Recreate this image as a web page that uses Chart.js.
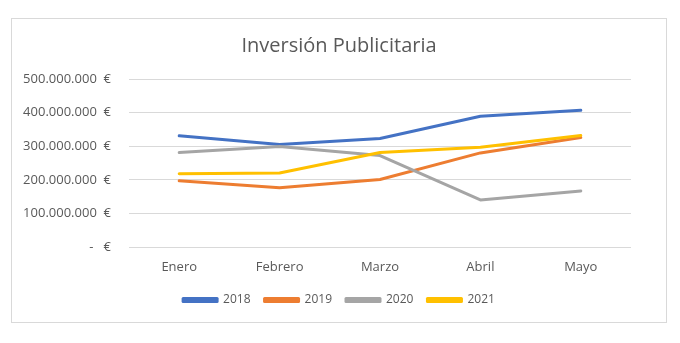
<!DOCTYPE html>
<html>
<head>
<meta charset="utf-8">
<script src="https://cdn.jsdelivr.net/npm/chart.js@4.4.1/dist/chart.umd.min.js"></script>
<style>
  body { margin: 0; background: #fff; }
  #wrap {
    position: absolute; left: 11px; top: 18px;
    width: 654px; height: 303px;
    border: 1px solid #d9d9d9;
  }
</style>
</head>
<body>
<div id="wrap"><canvas id="lineChart" width="654" height="303"></canvas></div>
<script>
// Data
const months = ['Enero', 'Febrero', 'Marzo', 'Abril', 'Mayo'];
const years = ['2018', '2019', '2020', '2021'];
const inv2018 = [331000000, 305000000, 323000000, 389000000, 407000000];
const inv2019 = [197000000, 176000000, 201000000, 280000000, 326000000];
const inv2020 = [281000000, 299000000, 272000000, 140000000, 167000000];
const inv2021 = [218000000, 220000000, 281000000, 297000000, 332000000];
const yTicks = [0, 100000000, 200000000, 300000000, 400000000, 500000000];

const colors = ['#4472C4', '#ED7D31', '#A5A5A5', '#FFC000'];
const series = [inv2018, inv2019, inv2020, inv2021];

// accounting style like Excel: "-" for zero
function euro(v) {
    if (v === 0) return '-   €';
    return v.toLocaleString('de-DE') + '  €';
}

Chart.defaults.font.family = "'Open Sans', sans-serif";
Chart.defaults.color = '#595959';

const ctx = document.getElementById('lineChart').getContext('2d');
const lineChart = new Chart(ctx, {
    type: 'line',
    data: {
        labels: months,
        datasets: series.map(function (vals, i) {
            return {
                label: years[i],
                data: vals,
                borderColor: colors[i],
                backgroundColor: colors[i],
                borderWidth: 3,
                tension: 0,
                pointRadius: 0,
                borderCapStyle: 'round',
                borderJoinStyle: 'round',
                order: series.length - i,
                yAxisID: 'y'
            };
        })
    },
    options: {
        responsive: false,
        animation: false,
        layout: { padding: { top: 0, left: 0, right: 0, bottom: 6 } },
        plugins: {
            title: {
                display: true,
                text: 'Inversión Publicitaria',
                font: { size: 20, weight: 'normal' },
                color: '#595959',
                padding: { top: 15, bottom: 21 }
            },
            legend: {
                position: 'bottom',
                reverse: true,
                labels: {
                    boxWidth: 34,
                    boxHeight: 3,
                    padding: 14,
                    font: { size: 12 },
                    color: '#595959'
                }
            },
            tooltip: { enabled: false }
        },
        scales: {
            x: {
                offset: true,
                grid: { display: false, drawTicks: false },
                border: { display: false },
                ticks: { padding: 12, font: { size: 13 } },
                afterFit: function (s) { s.height = 33; }
            },
            y: {
                min: 0,
                max: 500000000,
                afterBuildTicks: function (axis) {
                    axis.ticks = yTicks.map(function (v) { return { value: v }; });
                },
                grid: { color: '#D9D9D9', lineWidth: 1, drawTicks: false },
                border: { display: false },
                ticks: {
                    padding: 18,
                    font: { size: 13 },
                    callback: function (v) { return euro(v); }
                },
                afterFit: function (s) { s.width = 117; }
            },
            // empty right axis, only keeps space on the right side
            yRight: {
                position: 'right',
                grid: { display: false, drawTicks: false },
                border: { display: false },
                ticks: { display: false },
                afterFit: function (s) { s.width = 35; }
            }
        }
    }
});
</script>
</body>
</html>
